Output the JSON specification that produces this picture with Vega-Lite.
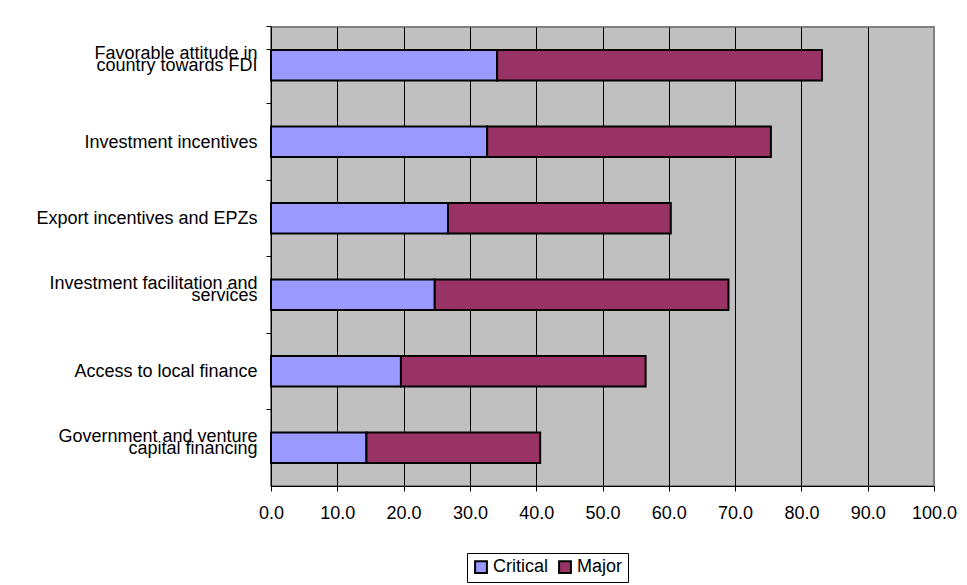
{
  "$schema": "https://vega.github.io/schema/vega-lite/v6.json",
  "width": 663,
  "height": 459,
  "autosize": "none",
  "padding": {"left": 271, "top": 27, "right": 33, "bottom": 99},
  "background": "white",
  "data": {
    "values": [
      {"factor": "Favorable attitude in|country towards FDI", "level": "Critical", "rank": 1, "pct": 34.1},
      {"factor": "Favorable attitude in|country towards FDI", "level": "Major", "rank": 2, "pct": 49.0},
      {"factor": "Investment incentives", "level": "Critical", "rank": 1, "pct": 32.6},
      {"factor": "Investment incentives", "level": "Major", "rank": 2, "pct": 42.8},
      {"factor": "Export incentives and EPZs", "level": "Critical", "rank": 1, "pct": 26.7},
      {"factor": "Export incentives and EPZs", "level": "Major", "rank": 2, "pct": 33.6},
      {"factor": "Investment facilitation and|services", "level": "Critical", "rank": 1, "pct": 24.7},
      {"factor": "Investment facilitation and|services", "level": "Major", "rank": 2, "pct": 44.3},
      {"factor": "Access to local finance", "level": "Critical", "rank": 1, "pct": 19.6},
      {"factor": "Access to local finance", "level": "Major", "rank": 2, "pct": 36.9},
      {"factor": "Government and venture|capital financing", "level": "Critical", "rank": 1, "pct": 14.4},
      {"factor": "Government and venture|capital financing", "level": "Major", "rank": 2, "pct": 26.2}
    ]
  },
  "mark": {"type": "bar", "stroke": "black", "strokeWidth": 2},
  "encoding": {
    "y": {
      "field": "factor",
      "type": "nominal",
      "sort": null,
      "scale": {"paddingInner": 0.6, "paddingOuter": 0.3},
      "axis": {
        "title": null,
        "labelExpr": "length(split(datum.label, '|')) > 1 ? [split(datum.label, '|')[0], ' ', split(datum.label, '|')[1]] : [' ', datum.label]",
        "labelFont": "Liberation Sans",
        "labelFontSize": 18,
        "labelLineHeight": 12,
        "labelBaseline": "bottom",
        "labelOffset": -2,
        "labelColor": "black",
        "labelPadding": 9,
        "labelLimit": 400,
        "bandPosition": -0.75,
        "tickExtra": true,
        "tickSize": 5,
        "tickColor": "black",
        "domainColor": "black",
        "grid": false
      }
    },
    "x": {
      "field": "pct",
      "type": "quantitative",
      "stack": "zero",
      "scale": {"domain": [0, 100], "nice": false, "zero": true},
      "axis": {
        "title": null,
        "values": [0, 10, 20, 30, 40, 50, 60, 70, 80, 90, 100],
        "format": ".1f",
        "labelFont": "Liberation Sans",
        "labelFontSize": 18,
        "labelColor": "black",
        "labelPadding": 13,
        "labelFlush": false,
        "tickSize": 5,
        "tickColor": "black",
        "domainColor": "black",
        "grid": true,
        "gridColor": {"condition": {"test": "datum.value === 100", "value": "#808080"}, "value": "black"},
        "gridOpacity": 1,
        "gridWidth": 1
      }
    },
    "color": {
      "field": "level",
      "type": "nominal",
      "scale": {"domain": ["Critical", "Major"], "range": ["#9999FF", "#993366"]},
      "legend": {
        "title": null,
        "orient": "none",
        "direction": "horizontal",
        "legendX": 196,
        "legendY": 526,
        "strokeColor": "black",
        "fillColor": "white",
        "padding": 5,
        "symbolType": "square",
        "symbolSize": 140,
        "symbolStrokeColor": "black",
        "symbolStrokeWidth": 2,
        "symbolOpacity": 1,
        "labelFont": "Liberation Sans",
        "labelFontSize": 18,
        "labelColor": "black",
        "labelOffset": 3,
        "columnPadding": 6
      }
    },
    "order": {"field": "rank", "type": "quantitative"}
  },
  "config": {
    "view": {"fill": "#C0C0C0", "stroke": "#808080", "strokeWidth": 2}
  }
}
